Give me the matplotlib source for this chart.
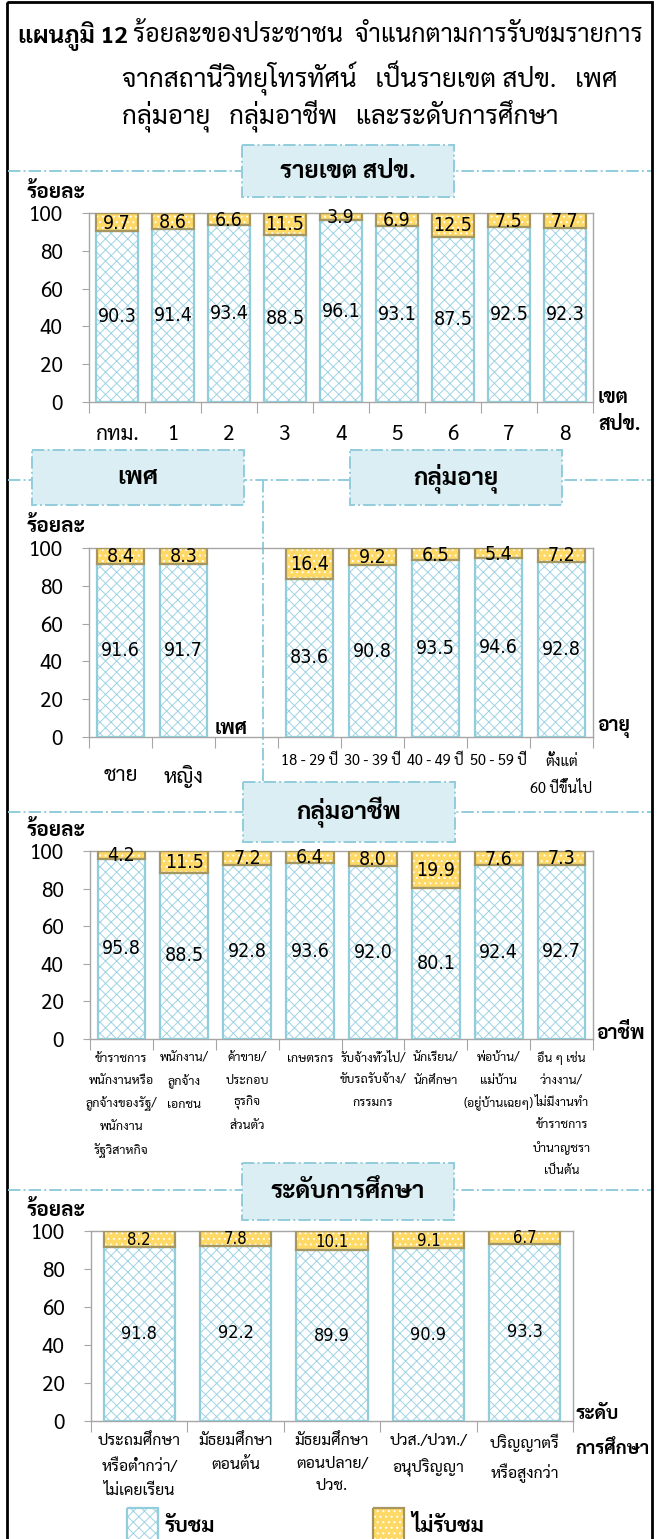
import matplotlib
matplotlib.use('Agg')
import matplotlib.pyplot as plt
from matplotlib.patches import Rectangle
import numpy as np

plt.rcParams['font.family'] = ['Sarabun', 'DejaVu Sans']
plt.rcParams['hatch.linewidth'] = 0.7

W, H = 659, 1539

# ---------------- data ----------------
region_labels = ['กทม.', '1', '2', '3', '4', '5', '6', '7', '8']
region_watch = [90.3, 91.4, 93.4, 88.5, 96.1, 93.1, 87.5, 92.5, 92.3]
region_not = [9.7, 8.6, 6.6, 11.5, 3.9, 6.9, 12.5, 7.5, 7.7]

gender_labels = ['ชาย', 'หญิง']
gender_watch = [91.6, 91.7]
gender_not = [8.4, 8.3]

age_labels = ['18 - 29 ปี', '30 - 39 ปี', '40 - 49 ปี', '50 - 59 ปี', 'ตั้งแต่\n60 ปีขึ้นไป']
age_watch = [83.6, 90.8, 93.5, 94.6, 92.8]
age_not = [16.4, 9.2, 6.5, 5.4, 7.2]

occ_labels = ['ข้าราชการ\nพนักงานหรือ\nลูกจ้างของรัฐ/\nพนักงาน\nรัฐวิสาหกิจ',
              'พนักงาน/\nลูกจ้าง\nเอกชน',
              'ค้าขาย/\nประกอบ\nธุรกิจ\nส่วนตัว',
              'เกษตรกร',
              'รับจ้างทั่วไป/\nขับรถรับจ้าง/\nกรรมกร',
              'นักเรียน/\nนักศึกษา',
              'พ่อบ้าน/\nแม่บ้าน\n(อยู่บ้านเฉยๆ)',
              'อื่น ๆ เช่น\nว่างงาน/\nไม่มีงานทำ\nข้าราชการ\nบำนาญชรา\nเป็นต้น']
occ_watch = [95.8, 88.5, 92.8, 93.6, 92.0, 80.1, 92.4, 92.7]
occ_not = [4.2, 11.5, 7.2, 6.4, 8.0, 19.9, 7.6, 7.3]

edu_labels = ['ประถมศึกษา\nหรือต่ำกว่า/\nไม่เคยเรียน', 'มัธยมศึกษา\nตอนต้น',
              'มัธยมศึกษา\nตอนปลาย/\nปวช.', 'ปวส./ปวท./\nอนุปริญญา', 'ปริญญาตรี\nหรือสูงกว่า']
edu_watch = [91.8, 92.2, 89.9, 90.9, 93.3]
edu_not = [8.2, 7.8, 10.1, 9.1, 6.7]

y_ticks = [0, 20, 40, 60, 80, 100]
legend_labels = ['รับชม', 'ไม่รับชม']

# ---------------- styles ----------------
BLUE_H = '#9fd3e4'
BLUE_E = '#92cddc'
YEL = '#ffd966'
YEL_E = '#a69660'
AX_C = '#a6a6a6'
BOX_F = '#daeef3'
BOX_E = '#92cddc'
NUMFONT = dict(family='DejaVu Sans', stretch='condensed')

fig = plt.figure(figsize=(W / 100, H / 100), dpi=100)
ov = fig.add_axes([0, 0, 1, 1], zorder=0)
ov.set_xlim(0, W)
ov.set_ylim(H, 0)
ov.axis('off')
renderer = fig.canvas.get_renderer()


def fit_width(t, target_px):
    w = t.get_window_extent(renderer).width
    t.set_fontsize(t.get_fontsize() * target_px / w)


def ax_at(x0, x1, ytop, ybot):
    a = fig.add_axes([x0 / W, 1 - ybot / H, (x1 - x0) / W, (ybot - ytop) / H], zorder=2)
    a.patch.set_alpha(0)
    return a


def style_axis(ax, n, labels, label_fs, label_pad, linespacing=1.2):
    ax.set_xlim(-0.5, n - 0.5)
    ax.set_ylim(0, 100)
    ax.set_yticks(y_ticks)
    ax.set_yticklabels([str(t) for t in y_ticks], fontsize=15)
    ax.tick_params(axis='y', length=5, color=AX_C, pad=14)
    ax.set_xticks(np.arange(n + 1) - 0.5)
    ax.set_xticklabels([''] * (n + 1))
    ax.tick_params(axis='x', which='major', length=8, color=AX_C)
    ax.set_xticks(np.arange(n), minor=True)
    ax.set_xticklabels(labels, minor=True, fontsize=label_fs, linespacing=linespacing, va='top')
    ax.tick_params(axis='x', which='minor', length=0, pad=label_pad)
    for s in ax.spines.values():
        s.set_color(AX_C)
        s.set_linewidth(1.0)


def draw_bars(ax, pos, watch, notw, width, fs_bot, fs_top):
    ax.bar(pos, watch, width, color='white', edgecolor=BLUE_H, hatch='xxx', linewidth=0, zorder=2)
    ax.bar(pos, watch, width, fill=False, edgecolor=BLUE_E, linewidth=1.6, zorder=3)
    ax.bar(pos, notw, width, bottom=watch, color=YEL, edgecolor='white', hatch='...', linewidth=0, zorder=2)
    ax.bar(pos, notw, width, bottom=watch, fill=False, edgecolor=YEL_E, linewidth=1.6, zorder=3)
    for p, w, nv in zip(pos, watch, notw):
        ax.text(p, w / 2, f'{w:.1f}', ha='center', va='center', fontsize=fs_bot, zorder=5, **NUMFONT)
        ax.text(p, w + nv / 2 - 0.5, f'{nv:.1f}', ha='center', va='center', fontsize=fs_top, zorder=5, **NUMFONT)


# ---------------- frame, separators, headings ----------------
ov.add_patch(Rectangle((7, 2), 645, 1560, fill=False, edgecolor='black', linewidth=2))
for yy in [171, 480, 812, 1190]:
    ov.plot([8, 651], [yy, yy], color=BOX_E, linestyle='-.', linewidth=1.4, zorder=1)
ov.plot([263, 263], [480, 782], color=BOX_E, linestyle='-.', linewidth=1.4, zorder=1)


def heading(x0, x1, y0, y1, text):
    ov.add_patch(Rectangle((x0, y0), x1 - x0, y1 - y0, facecolor=BOX_F, edgecolor=BOX_E,
                           linestyle='-.', linewidth=1.4, zorder=3))
    ov.text((x0 + x1) / 2, (y0 + y1) / 2 + 1, text, ha='center', va='center', fontsize=17.5,
            fontweight='bold', zorder=4)


heading(242, 454, 145, 197, 'รายเขต สปข.')
heading(32, 244, 450, 505, 'เพศ')
heading(350, 562, 450, 505, 'กลุ่มอายุ')
heading(243, 455, 782, 842, 'กลุ่มอาชีพ')
heading(242, 454, 1163, 1220, 'ระดับการศึกษา')

# title
t0 = ov.text(18, 36, 'แผนภูมิ 12', fontsize=17, fontweight='bold', va='center', ha='left')
fit_width(t0, 110)
t1 = ov.text(133, 36, 'ร้อยละของประชาชน  จำแนกตามการรับชมรายการ', fontsize=18, va='center', ha='left')
fit_width(t1, 510)
fs_title = t1.get_fontsize() * 1.04
ov.text(122, 78, 'จากสถานีวิทยุโทรทัศน์   เป็นรายเขต สปข.   เพศ', fontsize=fs_title, va='center', ha='left')
ov.text(122, 116, 'กลุ่มอายุ   กลุ่มอาชีพ   และระดับการศึกษา', fontsize=fs_title, va='center', ha='left')

# y-axis unit labels
for yy in [193, 527, 830, 1210]:
    ov.text(27, yy, 'ร้อยละ', fontsize=15, fontweight='bold', va='center', ha='left')

# axis name labels
ov.text(598, 398, 'เขต', fontsize=14, fontweight='bold', va='center', ha='left')
ov.text(598, 425, 'สปข.', fontsize=14, fontweight='bold', va='center', ha='left')
ov.text(215, 729, 'เพศ', fontsize=14, fontweight='bold', va='center', ha='left')
ov.text(597, 729, 'อายุ', fontsize=14, fontweight='bold', va='center', ha='left')
ov.text(596, 1033, 'อาชีพ', fontsize=14, fontweight='bold', va='center', ha='left')
ov.text(575, 1414, 'ระดับ', fontsize=13.5, fontweight='bold', va='center', ha='left')
ta = ov.text(575, 1449, 'การศึกษา', fontsize=13.5, fontweight='bold', va='center', ha='left')
fit_width(ta, 74)

# ---------------- panel 1: regions ----------------
ax1 = ax_at(89, 593, 213, 402)
n1 = len(region_labels)
draw_bars(ax1, np.arange(n1), region_watch, region_not, 0.76, 14, 14)
style_axis(ax1, n1, region_labels, 15, 16)

# ---------------- panel 2: gender + age ----------------
ax2 = ax_at(89, 593, 548, 737)
labels2 = gender_labels + [''] + age_labels
n2 = len(labels2)
pos_g = np.arange(len(gender_labels))
pos_a = np.arange(len(age_labels)) + len(gender_labels) + 1
draw_bars(ax2, pos_g, gender_watch, gender_not, 0.76, 14, 14)
draw_bars(ax2, pos_a, age_watch, age_not, 0.76, 14, 14)
style_axis(ax2, n2, labels2, 10.5, 12, linespacing=2.05)
for t, lab in zip(ax2.get_xticklabels(minor=True), labels2):
    if lab in gender_labels:
        t.set_fontsize(15)
        t.set_y(-0.06)

# ---------------- panel 3: occupation ----------------
ax3 = ax_at(90, 593, 851, 1039)
n3 = len(occ_labels)
draw_bars(ax3, np.arange(n3), occ_watch, occ_not, 0.76, 14, 14)
style_axis(ax3, n3, occ_labels, 9, 9, linespacing=1.9)

# ---------------- panel 4: education ----------------
ax4 = ax_at(91, 573, 1231, 1421)
n4 = len(edu_labels)
draw_bars(ax4, np.arange(n4), edu_watch, edu_not, 0.74, 13, 12)
style_axis(ax4, n4, edu_labels, 11.5, 9, linespacing=1.75)

# ---------------- legend ----------------
for (x0, lab, fc, hc, ec, hatch) in [(127, legend_labels[0], 'white', BLUE_H, BLUE_E, 'xxx'),
                                      (373, legend_labels[1], YEL, 'white', YEL_E, '...')]:
    ov.add_patch(Rectangle((x0, 1508), 31, 40, facecolor=fc, edgecolor=hc, hatch=hatch, linewidth=0, zorder=3))
    ov.add_patch(Rectangle((x0, 1508), 31, 40, fill=False, edgecolor=ec, linewidth=1.6, zorder=4))
    ov.text(x0 + 38, 1526, lab, fontsize=15, fontweight='bold', va='center', ha='left')

fig.savefig('out.png', dpi=100)
